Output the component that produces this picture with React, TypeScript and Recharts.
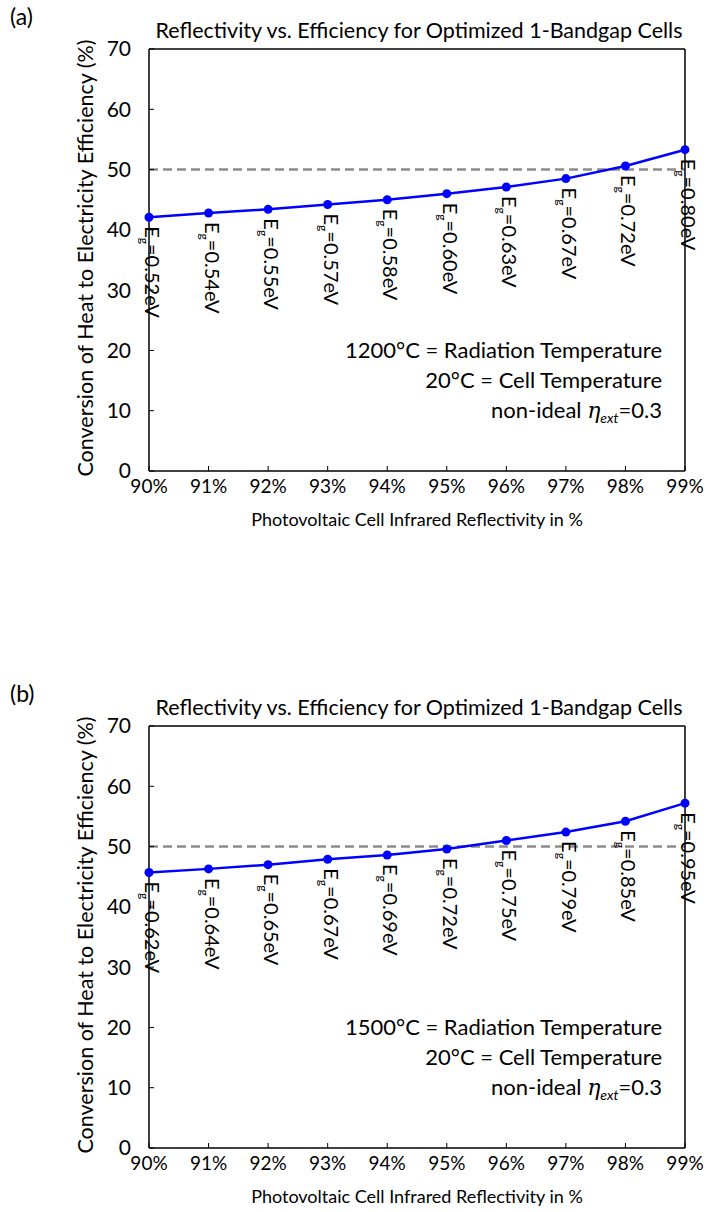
import React from 'react';
import {
    LineChart,
    Line,
    XAxis,
    YAxis,
    ReferenceLine,
    LabelList,
} from 'recharts';

const reflectivity = [90, 91, 92, 93, 94, 95, 96, 97, 98, 99];
const yTicks = [0, 10, 20, 30, 40, 50, 60, 70];

// (a) 1200°C radiation temperature
const efficiencyA = [42.1, 42.8, 43.4, 44.2, 45.0, 46.0, 47.1, 48.5, 50.6, 53.3];
const bandgapA = ['0.52', '0.54', '0.55', '0.57', '0.58', '0.60', '0.63', '0.67', '0.72', '0.80'];

// (b) 1500°C radiation temperature
const efficiencyB = [45.7, 46.3, 47.0, 47.9, 48.6, 49.6, 51.0, 52.4, 54.2, 57.2];
const bandgapB = ['0.62', '0.64', '0.65', '0.67', '0.69', '0.72', '0.75', '0.79', '0.85', '0.95'];

const FONT = 'Lato, "Open Sans", sans-serif';

const GapLabel = (props: any) => {
    const { x, y, value } = props;
    return (
        <text
            transform={`translate(${x},${y + 9}) rotate(90)`}
            fontSize={20}
            fontFamily={FONT}
            fill="#000"
        >
            <tspan dy={4}>E</tspan>
            <tspan fontSize={12} dy={5}>g</tspan>
            <tspan dy={-5}>={value}eV</tspan>
        </text>
    );
};

function Panel({
    tag,
    temp,
    values,
    gaps,
    top,
}: {
    tag: string;
    temp: string;
    values: number[];
    gaps: string[];
    top: number;
}) {
    const data = reflectivity.map((r, i) => ({ r, eff: values[i], gap: gaps[i] }));

    return (
        <div style={{ position: 'absolute', left: 0, top, width: 709, height: 560, fontFamily: FONT }}>
            <div style={{ position: 'absolute', left: 10, top: 2, fontSize: 23 }}>{tag}</div>
            <div
                style={{
                    position: 'absolute',
                    left: 419,
                    top: 30,
                    transform: 'translate(-50%, -50%)',
                    fontSize: 21.5,
                    whiteSpace: 'nowrap',
                }}
            >
                Reflectivity vs. Efficiency for Optimized 1-Bandgap Cells
            </div>
            <div
                style={{
                    position: 'absolute',
                    left: 85,
                    top: 258,
                    transform: 'translate(-50%, -50%) rotate(-90deg)',
                    fontSize: 21.5,
                    whiteSpace: 'nowrap',
                }}
            >
                Conversion of Heat to Electricity Efficiency (%)
            </div>
            <div
                style={{
                    position: 'absolute',
                    left: 417,
                    top: 519,
                    transform: 'translate(-50%, -50%)',
                    fontSize: 18,
                    whiteSpace: 'nowrap',
                }}
            >
                Photovoltaic Cell Infrared Reflectivity in %
            </div>

            <LineChart
                width={709}
                height={560}
                data={data}
                margin={{ top: 48, right: 23, left: 89, bottom: 59 }}
            >
                <XAxis
                    xAxisId="bottom"
                    dataKey="r"
                    type="number"
                    domain={[90, 99]}
                    ticks={reflectivity}
                    tickFormatter={(v) => `${v}%`}
                    height={30}
                    tickSize={-5}
                    tickMargin={14}
                    tick={{ fill: '#000', fontSize: 19, fontFamily: FONT }}
                    axisLine={{ stroke: '#000', strokeWidth: 1.5 }}
                    tickLine={{ stroke: '#000' }}
                />
                <XAxis
                    xAxisId="top"
                    orientation="top"
                    dataKey="r"
                    type="number"
                    domain={[90, 99]}
                    ticks={reflectivity}
                    height={1}
                    tickSize={-5}
                    tick={false}
                    axisLine={{ stroke: '#000', strokeWidth: 1.5 }}
                    tickLine={{ stroke: '#000' }}
                />
                <YAxis
                    yAxisId="left"
                    domain={[0, 70]}
                    ticks={yTicks}
                    width={60}
                    tickSize={-5}
                    tickMargin={23}
                    tick={{ fill: '#000', fontSize: 21, fontFamily: FONT }}
                    axisLine={{ stroke: '#000', strokeWidth: 1.5 }}
                    tickLine={{ stroke: '#000' }}
                />
                <YAxis
                    yAxisId="right"
                    orientation="right"
                    domain={[0, 70]}
                    ticks={yTicks}
                    width={1}
                    tickSize={-5}
                    tick={false}
                    axisLine={{ stroke: '#000', strokeWidth: 1.5 }}
                    tickLine={{ stroke: '#000' }}
                />
                <ReferenceLine
                    xAxisId="bottom"
                    yAxisId="left"
                    y={50}
                    stroke="#8c8c8c"
                    strokeWidth={2.5}
                    strokeDasharray="9 5"
                />
                <Line
                    xAxisId="bottom"
                    yAxisId="left"
                    type="linear"
                    dataKey="eff"
                    stroke="#0000ff"
                    strokeWidth={2.5}
                    dot={{ r: 4.5, fill: '#0000ff', stroke: '#0000ff', strokeWidth: 0 }}
                    isAnimationActive={false}
                >
                    <LabelList dataKey="gap" content={GapLabel} />
                </Line>
            </LineChart>

            <div
                style={{
                    position: 'absolute',
                    right: 709 - 662,
                    top: 335,
                    fontSize: 22,
                    lineHeight: '30px',
                    textAlign: 'right',
                    whiteSpace: 'nowrap',
                }}
            >
                <div>{temp} = Radiation Temperature</div>
                <div>20°C = Cell Temperature</div>
                <div>
                    non-ideal{' '}
                    <i style={{ fontFamily: '"DejaVu Serif", serif' }}>η</i>
                    <sub style={{ fontStyle: 'italic', fontSize: 14, lineHeight: 0 }}>ext</sub>=0.3
                </div>
            </div>
        </div>
    );
}

export default function App() {
    return (
        <div style={{ position: 'absolute', left: 0, top: 0, width: 709, height: 1212, background: '#fff' }}>
            <Panel tag="(a)" temp="1200°C" values={efficiencyA} gaps={bandgapA} top={0} />
            <Panel tag="(b)" temp="1500°C" values={efficiencyB} gaps={bandgapB} top={677} />
        </div>
    );
}
